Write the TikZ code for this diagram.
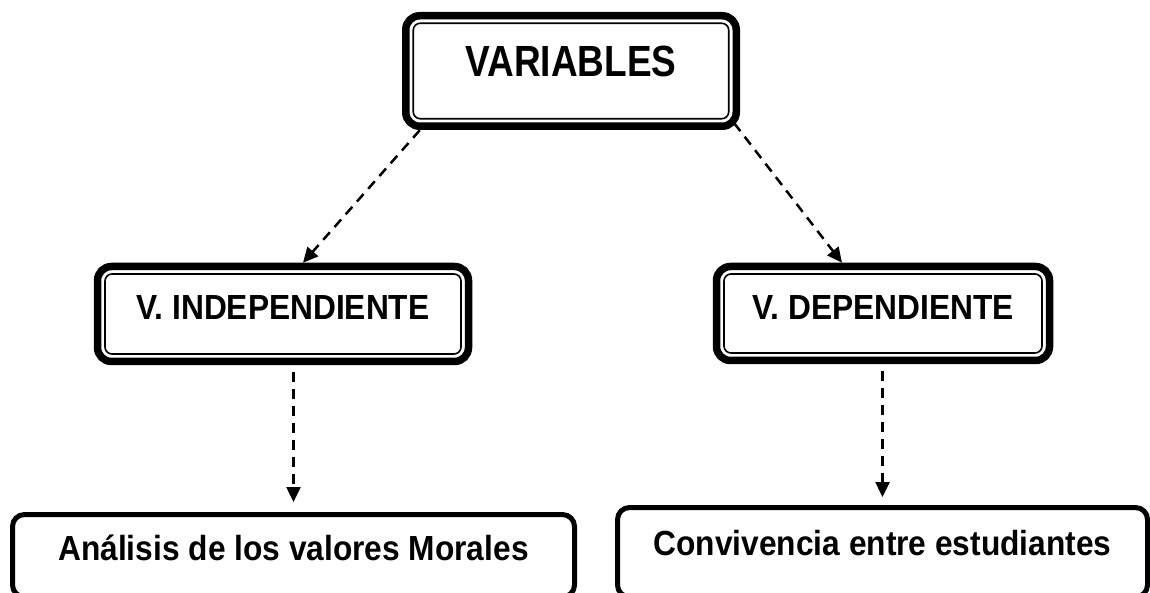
\documentclass[tikz,border=0pt]{standalone}
\usepackage{fontspec}
\usepackage{graphicx}
\setmainfont{Liberation Sans}
\usetikzlibrary{arrows.meta}
\newcommand{\tallt}[2][1.1]{\scalebox{1}[#1]{#2}}
\tikzset{
  boxfont/.style={font=\fontsize{31.7}{38}\selectfont\bfseries},
  dbox/.style={draw, line width=7.5pt, rounded corners=14pt, inner sep=0pt, outer sep=0pt,
    boxfont, text height=12pt, text depth=0pt},
  sbox/.style={draw, line width=5pt, rounded corners=12pt, inner sep=0pt, outer sep=0pt,
    boxfont, text height=12pt, text depth=0pt},
  innerline/.style={line width=1.6pt, rounded corners=7pt},
  conn/.style={line width=2.5pt, dash pattern=on 10pt off 7pt,
    -{Triangle[length=15pt,width=14pt]}},
}
\begin{document}
\begin{tikzpicture}[x=1pt,y=1pt]
\path[use as bounding box, fill=white] (0,0) rectangle (1150,592);
\clip (0,0) rectangle (1150,592);

% boxes
\node[dbox, minimum width=330.5pt, minimum height=110.5pt,
      font=\fontsize{37}{44}\selectfont\bfseries] (var) at (571,521) {\tallt[1.18]{VARIABLES}};
\node[dbox, minimum width=371pt, minimum height=95pt] (vi) at (283,278) {\tallt{V. INDEPENDIENTE}};
\node[dbox, minimum width=333pt, minimum height=94pt] (vd) at (883,278.5) {\tallt{V. DEPENDIENTE}};
\node[sbox, minimum width=562pt, minimum height=82.5pt, text height=8.5pt] (ml) at (293.5,36.25) {\tallt{Análisis de los valores Morales}};
\node[sbox, minimum width=530pt, minimum height=89.5pt, text height=5.5pt] (mr) at (882.5,39.75) {\tallt{Convivencia entre estudiantes}};

% inner lines of the double boxes
\foreach \n in {var,vi,vd}{
  \draw[innerline] ([shift={(7.5pt,-7.5pt)}]\n.north west) rectangle ([shift={(-7.5pt,7.5pt)}]\n.south east);
}

% connectors
\draw[conn] ([xshift=14pt,yshift=-4pt]var.south west) -- ([xshift=20pt,yshift=3.75pt]vi.north);
\draw[conn] ([xshift=-2pt,yshift=3pt]var.south east) -- ([xshift=-41pt,yshift=3.75pt]vd.north);
\draw[conn] ([yshift=-10pt]vi.south -| ml.north) -- ([yshift=12.5pt]ml.north);
\draw[conn] ([yshift=-10pt]vd.south -| mr.north) -- ([yshift=10.5pt]mr.north);
\end{tikzpicture}
\end{document}
